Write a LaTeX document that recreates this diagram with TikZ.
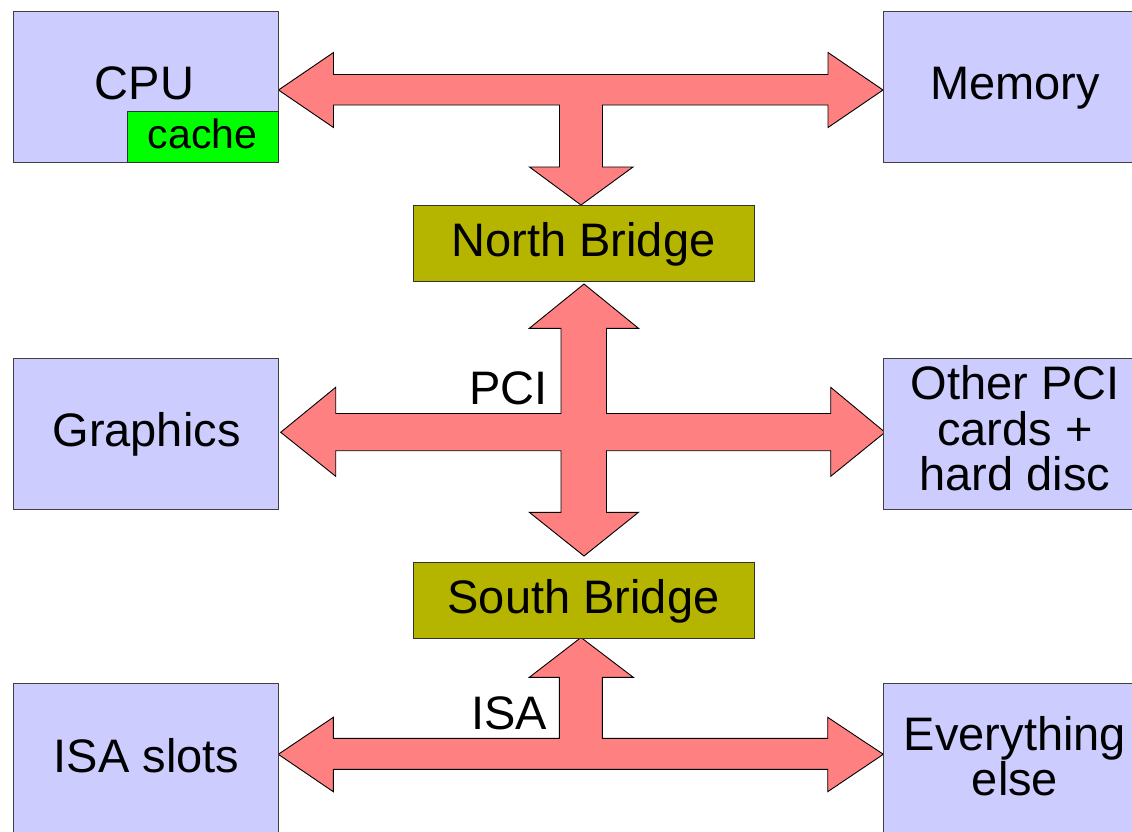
\documentclass[tikz,border=0pt]{standalone}
\usepackage{fontspec}
\setmainfont{Liberation Sans}
\definecolor{unitfill}{HTML}{CCCCFF}
\definecolor{bridgefill}{HTML}{B5B500}
\definecolor{cachefill}{HTML}{00FF00}
\definecolor{busfill}{HTML}{FF8080}
\begin{document}
\begin{tikzpicture}[x=1pt,y=-1pt,
  unitbox/.style={draw=black!75,line width=0.9pt,fill=unitfill,inner sep=0pt,
    minimum width=265pt,minimum height=151pt,anchor=north west},
  bridgebox/.style={draw=black!80,line width=0.9pt,fill=bridgefill,inner sep=0pt,
    minimum width=340.4pt,minimum height=75.6pt,anchor=north west},
  cachebox/.style={draw=black!80,line width=0.9pt,fill=cachefill,inner sep=0pt,
    minimum width=151.3pt,minimum height=50.7pt,anchor=north west},
  bus/.style={draw=black,line width=0.9pt,fill=busfill,line join=miter},
  lbl/.style={inner sep=0pt,anchor=base,font=\fontsize{47}{56}\selectfont},
  smalllbl/.style={inner sep=0pt,anchor=base,font=\fontsize{41}{48}\selectfont},
  buslbl/.style={inner sep=0pt,anchor=base east,font=\fontsize{47}{56}\selectfont}]
\useasboundingbox (0,0) rectangle (1132,831);
\clip (0,0) rectangle (1132,831);
\fill[white] (0,0) rectangle (1132,831);

% front-side bus: CPU <-> Memory, down to the north bridge
\draw[bus] (278.5,90) -- (333.5,52.5) -- (333.5,74.5) -- (828,74.5) -- (828,52.5)
  -- (883,90) -- (828,127.5) -- (828,105) -- (602.5,105) -- (602.5,167)
  -- (633,167) -- (581,205) -- (529.5,167) -- (559.5,167) -- (559.5,105)
  -- (333.5,105) -- (333.5,127.5) -- cycle;

% PCI bus: north bridge, graphics, other cards, south bridge
\draw[bus] (584,284) -- (638.5,328.3) -- (606.5,328.3) -- (606.5,413.5)
  -- (830.7,413.5) -- (830.7,387.3) -- (885,432.3) -- (830.7,476.3)
  -- (830.7,450.7) -- (606.5,450.7) -- (606.5,512.3) -- (638.5,512.3)
  -- (584,556) -- (529.3,512.3) -- (561,512.3) -- (561,450.7) -- (335.7,450.7)
  -- (335.7,476.3) -- (280.7,432.3) -- (335.7,387.3) -- (335.7,413.5)
  -- (561,413.5) -- (561,328.3) -- (529.3,328.3) -- cycle;

% ISA bus: south bridge, ISA slots, everything else
\draw[bus] (581,637.5) -- (633.3,677.3) -- (602.3,677.3) -- (602.3,738.3)
  -- (827.7,738.3) -- (827.7,717.3) -- (883.3,754.3) -- (827.7,791.7)
  -- (827.7,769.3) -- (333.3,769.3) -- (333.3,791.7) -- (278.3,754.3)
  -- (333.3,717.3) -- (333.3,738.3) -- (559.3,738.3) -- (559.3,677.3)
  -- (529.3,677.3) -- cycle;

% units
\node[unitbox] (cpu) at (13.3,10.7) {};
\node[cachebox] (cache) at (127,111.3) {};
\node[unitbox] (mem) at (882.7,10.7) {};
\node[bridgebox] (nb) at (413.3,205) {};
\node[unitbox] (gfx) at (13.3,358.3) {};
\node[unitbox] (pci) at (883.3,358.3) {};
\node[bridgebox] (sb) at (413.3,562.2) {};
\node[unitbox] (isa) at (13.3,683.3) {};
\node[unitbox] (misc) at (883.3,683.3) {};

% labels
\node[lbl] (cpu-t) at (144.5,99.3) {CPU};
\node[smalllbl] (cache-t) at (202.5,148.3) {cache};
\node[lbl] (mem-t) at (1015,99.3) {Memory};
\node[lbl] (nb-t) at (583.5,256) {North Bridge};
\node[lbl] (gfx-t) at (146.5,446) {Graphics};
\node[lbl] (pci-t1) at (1015,399.5) {Other PCI};
\node[lbl] (pci-t2) at (1015,445) {cards +};
\node[lbl] (pci-t3) at (1015,490.5) {hard disc};
\node[lbl] (sb-t) at (583.5,613) {South Bridge};
\node[lbl] (isa-t) at (146.5,772) {ISA slots};
\node[lbl] (misc-t1) at (1015,750) {Everything};
\node[lbl] (misc-t2) at (1015,795) {else};
\node[buslbl] (pci-bus) at (548,404.3) {PCI};
\node[buslbl] (isa-bus) at (547,729.3) {ISA};
\end{tikzpicture}
\end{document}
